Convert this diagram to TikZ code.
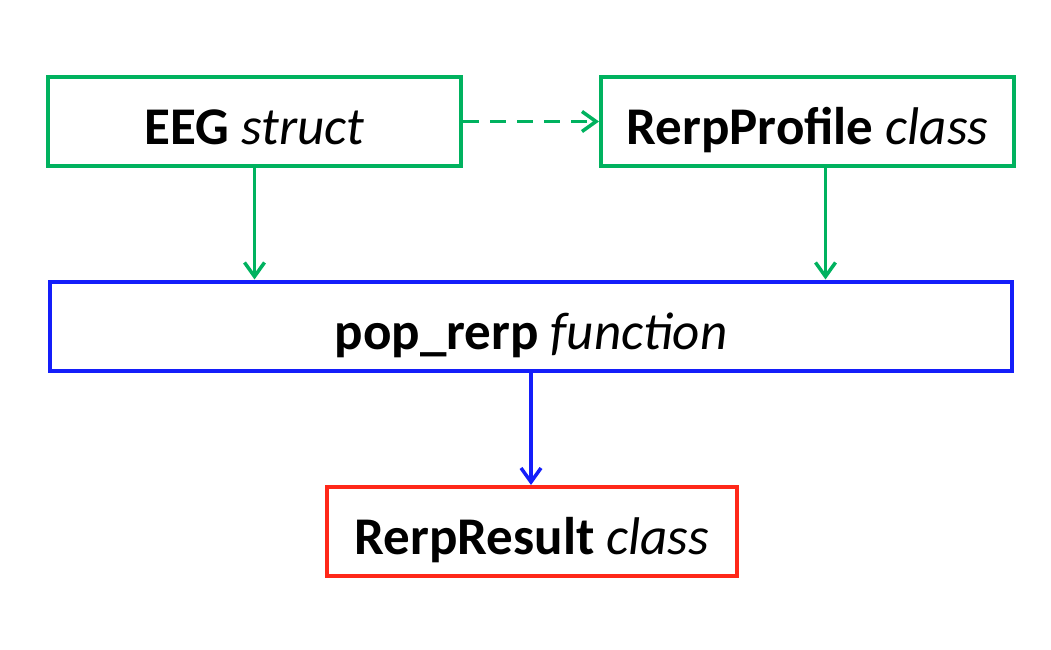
\documentclass[tikz,border=0pt]{standalone}
\usepackage{fontspec}
\setmainfont{Carlito}
\usepackage{tikz}
\usetikzlibrary{arrows.meta, positioning, calc}
\definecolor{structgreen}{RGB}{0, 178, 95}
\definecolor{funcblue}{RGB}{20, 30, 250}
\definecolor{resultred}{RGB}{255, 40, 25}
\tikzset{
  box/.style={draw, line width=4pt, minimum height=89pt, inner sep=0pt,
    text height=46pt, text depth=0pt, font=\fontsize{53}{60}\selectfont},
  flow/.style={-{Straight Barb[length=14pt, width=20pt]}, line width=3.5pt}
}

\begin{document}
\begin{tikzpicture}[x=1pt, y=1pt]
\useasboundingbox (0,0) rectangle (1051,649);
% ── Inputs ──────────────────────────────────────────────────────
\node[box, structgreen, minimum width=413pt] (eeg) at (254.5,527.5)
{\color{black}\textbf{EEG} \textit{struct}};
\node[box, structgreen, minimum width=413pt] (profile) at (807.5,527.5)
{\color{black}\textbf{RerpProfile} \textit{class}};

% ── Function ────────────────────────────────────────────────────
\node[box, funcblue, minimum width=962pt] (poprerp) at (531,323)
{\color{black}\textbf{pop\_rerp} \textit{function}};

% ── Result ──────────────────────────────────────────────────────
\node[box, resultred, minimum width=410pt] (result) at (532,117.5)
{\color{black}\textbf{RerpResult} \textit{class}};

% ── Arrows ──────────────────────────────────────────────────────
\draw[flow, structgreen, dash pattern=on 16pt off 11pt]
(eeg.east) -- (profile.west);
\draw[flow, structgreen] (eeg.south) -- (eeg.south |- poprerp.north);
\coordinate (profout) at ($(profile.south)+(18,0)$);
\draw[flow, structgreen] (profout) -- (profout |- poprerp.north);
\draw[flow, funcblue] (poprerp.south) -- (poprerp.south |- result.north);
\end{tikzpicture}
\end{document}
